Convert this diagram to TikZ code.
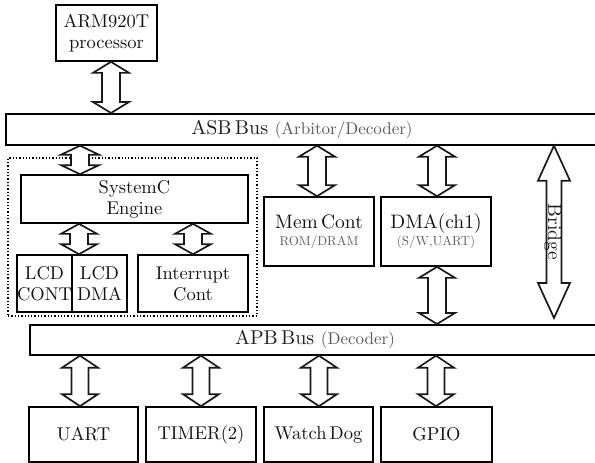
\documentclass[tikz,border=0pt]{standalone}
\usepackage{fontspec}
% scalable Latin Modern design, so large sizes are not clamped
\setmainfont{lmroman10-regular.otf}
\usetikzlibrary{calc}

% Hollow double-headed bus arrow between two points on one vertical line.
% #1 upper end, #2 lower end, #3 half shaft width, #4 half head width, #5 head length
\newcommand{\busarrow}[5]{%
  \draw[arrowline]
    ([xshift=-#3,yshift=-#5]#1) -- ([xshift=-#4,yshift=-#5]#1) -- (#1)
    -- ([xshift=#4,yshift=-#5]#1) -- ([xshift=#3,yshift=-#5]#1)
    -- ([xshift=#3,yshift=#5]#2) -- ([xshift=#4,yshift=#5]#2) -- (#2)
    -- ([xshift=-#4,yshift=#5]#2) -- ([xshift=-#3,yshift=#5]#2) -- cycle;}

% second-line annotation text inside a block
\newcommand{\subtextfont}{\fontsize{13}{14}\selectfont\color{black!62}}
% bracketed remark after a bus name
\newcommand{\busnote}{\fontsize{17}{18}\selectfont\color{black!65}}

\tikzset{
  blk/.style={draw, line width=1.7pt, fill=white, align=center, inner sep=0pt,
    text=black!92, font=\fontsize{18.5}{21}\selectfont},
  busbar/.style={draw, line width=1.7pt, anchor=north west, inner sep=0pt, fill=white},
  grouping/.style={draw, dotted, line width=1.3pt, inner sep=0pt},
  arrowline/.style={line width=1.7pt, fill=white, line join=miter, draw=black!90},
  buslabel/.style={inner sep=0pt, text=black!88, font=\fontsize{20}{22}\selectfont},
}

\begin{document}
\begin{tikzpicture}[x=1pt, y=-1pt]
  \useasboundingbox (0,0) rectangle (595,463);
  \clip (0,0) rectangle (595,463);

  % processor
  \node[blk, minimum width=101pt, minimum height=56pt] (arm) at (106.5,33) {ARM920T\\processor};

  % system buses (open towards the right edge)
  \node[busbar, minimum width=600pt, minimum height=31pt] (asb) at (5,113) {};
  \node[buslabel] (asbtxt) at (302,129) {ASB\,Bus {\busnote(Arbitor/Decoder)}};
  \node[busbar, minimum width=580pt, minimum height=30pt] (apb) at (29,324) {};
  \node[buslabel] (apbtxt) at (315,339) {APB\,Bus {\busnote(Decoder)}};

  % SystemC engine group
  \node[grouping, minimum width=249pt, minimum height=158pt] (grp) at (132.5,237) {};
  \node[blk, minimum width=227pt, minimum height=48pt] (sysc) at (134.5,199) {SystemC\\Engine};
  \node[blk, minimum width=55pt, minimum height=57pt] (lcdc) at (44.5,283.5) {LCD\\CONT};
  \node[blk, minimum width=55pt, minimum height=57pt] (lcdd) at (99.5,283.5) {LCD\\DMA};
  \node[blk, minimum width=110pt, minimum height=57pt] (intr) at (193,283.5) {Interrupt\\Cont};

  % ASB masters / slaves
  \node[blk, minimum width=110pt, minimum height=69pt] (mem) at (319,231.5)
    {\fontsize{19.5}{21}\selectfont Mem\,Cont\\[-4pt]{\subtextfont ROM/DRAM}};
  \node[blk, minimum width=110pt, minimum height=69pt] (dma) at (436,231.5)
    {\fontsize{19.5}{21}\selectfont DMA(ch1)\\[-4pt]{\subtextfont (S/W,UART)}};

  % APB peripherals
  \node[blk, minimum width=109pt, minimum height=55pt] (uart)  at (83.5,434.5) {UART};
  \node[blk, minimum width=110pt, minimum height=55pt] (timer) at (201,434.5) {TIMER(2)};
  \node[blk, minimum width=109pt, minimum height=55pt] (wdog)  at (318.5,434.5) {Watch\,Dog};
  \node[blk, minimum width=111pt, minimum height=55pt] (gpio)  at (436.5,434.5) {GPIO};

  % vertical lines on which the bus arrows run
  \coordinate (xarm) at (111,0);
  \coordinate (xsys) at (80,0);
  \coordinate (xlcd) at (79,0);
  \coordinate (xint) at (193,0);
  \coordinate (xmem) at (317,0);
  \coordinate (xdma) at (437,0);
  \coordinate (xbr)  at (554,0);
  \coordinate (xu)   at (80,0);
  \coordinate (xt)   at (201,0);
  \coordinate (xw)   at (319,0);
  \coordinate (xg)   at (436,0);

  % arrow end points
  \coordinate (a1t) at (xarm |- arm.south);  \coordinate (a1b) at (xarm |- asb.north);
  \coordinate (a2t) at (xsys |- asb.south);  \coordinate (a2b) at (xsys |- sysc.north);
  \coordinate (a3t) at (xlcd |- sysc.south); \coordinate (a3b) at (xlcd |- lcdc.north);
  \coordinate (a4t) at (xint |- sysc.south); \coordinate (a4b) at (xint |- intr.north);
  \coordinate (a5t) at (xmem |- asb.south);  \coordinate (a5b) at (xmem |- mem.north);
  \coordinate (a6t) at (xdma |- asb.south);  \coordinate (a6b) at (xdma |- dma.north);
  \coordinate (a7t) at (xdma |- dma.south);  \coordinate (a7b) at (xdma |- apb.north);
  \coordinate (brt) at (xbr |- asb.south);   \coordinate (brb) at ($(xbr |- apb.north)+(0,-6)$);
  \coordinate (b1t) at (xu |- apb.south);    \coordinate (b1b) at (xu |- uart.north);
  \coordinate (b2t) at (xt |- apb.south);    \coordinate (b2b) at (xt |- timer.north);
  \coordinate (b3t) at (xw |- apb.south);    \coordinate (b3b) at (xw |- wdog.north);
  \coordinate (b4t) at (xg |- apb.south);    \coordinate (b4b) at (xg |- gpio.north);

  % bus arrows
  \busarrow{a1t}{a1b}{9pt}{18pt}{11pt}
  \busarrow{a2t}{a2b}{9pt}{19pt}{9pt}
  \busarrow{a3t}{a3b}{9pt}{18pt}{10pt}
  \busarrow{a4t}{a4b}{9pt}{18pt}{10pt}
  \busarrow{a5t}{a5b}{9pt}{18pt}{11pt}
  \busarrow{a6t}{a6b}{9pt}{18pt}{11pt}
  \busarrow{a7t}{a7b}{9pt}{18pt}{11pt}
  \busarrow{b1t}{b1b}{8.5pt}{18pt}{12pt}
  \busarrow{b2t}{b2b}{8.5pt}{18pt}{12pt}
  \busarrow{b3t}{b3b}{8.5pt}{18pt}{12pt}
  \busarrow{b4t}{b4b}{8.5pt}{18pt}{12pt}

  % bridge between the two buses
  \busarrow{brt}{brb}{7.5pt}{16pt}{35pt}
  \node[rotate=-90, inner sep=0pt, text=black!88, font=\fontsize{19.5}{22}\selectfont] (bridge) at (553,232) {Bridge};
\end{tikzpicture}
\end{document}
